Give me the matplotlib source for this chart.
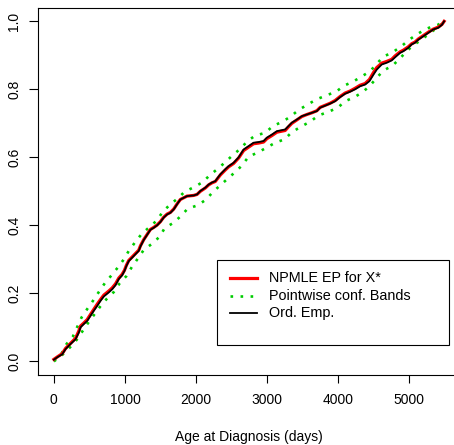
import matplotlib
matplotlib.use("Agg")
import matplotlib.pyplot as plt
from matplotlib.lines import Line2D
from matplotlib.patches import Rectangle

plt.rcParams['font.family'] = ['Liberation Sans', 'DejaVu Sans']

# Ordinary empirical distribution (black)
emp_x = [0, 47, 118, 164, 234, 305, 352, 375, 422, 469, 515, 562, 609, 656, 703, 773,
         820, 867, 913, 960, 993, 1021, 1054, 1101, 1147, 1194, 1218, 1264, 1311, 1358,
         1405, 1452, 1499, 1545, 1592, 1639, 1686, 1733, 1779, 1826, 1873, 1967, 2014,
         2060, 2131, 2177, 2224, 2271, 2341, 2412, 2458, 2528, 2599, 2669, 2739, 2809,
         2880, 2950, 2997, 3067, 3137, 3207, 3254, 3301, 3348, 3418, 3488, 3559, 3629,
         3699, 3746, 3816, 3886, 3956, 4027, 4097, 4167, 4237, 4308, 4378, 4439, 4495,
         4542, 4612, 4682, 4752, 4799, 4869, 4916, 4986, 5033, 5080, 5127, 5197, 5267,
         5337, 5408, 5460, 5490]
emp_y = [0.005, 0.012, 0.021, 0.036, 0.051, 0.065, 0.085, 0.100, 0.110, 0.119, 0.134,
         0.149, 0.163, 0.178, 0.191, 0.203, 0.212, 0.224, 0.242, 0.253, 0.266, 0.281,
         0.295, 0.305, 0.315, 0.325, 0.338, 0.357, 0.372, 0.387, 0.393, 0.400, 0.410,
         0.423, 0.432, 0.437, 0.447, 0.462, 0.476, 0.481, 0.486, 0.488, 0.491, 0.501,
         0.511, 0.520, 0.526, 0.530, 0.550, 0.565, 0.574, 0.584, 0.600, 0.623, 0.633,
         0.643, 0.645, 0.648, 0.658, 0.667, 0.677, 0.680, 0.682, 0.692, 0.702, 0.711,
         0.721, 0.726, 0.731, 0.736, 0.746, 0.752, 0.758, 0.765, 0.777, 0.787, 0.793,
         0.800, 0.809, 0.814, 0.824, 0.843, 0.858, 0.873, 0.878, 0.885, 0.894, 0.907,
         0.912, 0.922, 0.932, 0.937, 0.946, 0.956, 0.966, 0.976, 0.981, 0.990, 1.000]

# NPMLE EP for X* (red) - nearly on top of the empirical one
npmle_y = [0.006, 0.013, 0.023, 0.038, 0.053, 0.068, 0.090, 0.104, 0.113, 0.123, 0.138,
           0.153, 0.168, 0.182, 0.195, 0.207, 0.216, 0.228, 0.245, 0.256, 0.268, 0.283,
           0.297, 0.307, 0.317, 0.327, 0.340, 0.358, 0.373, 0.388, 0.394, 0.401, 0.411,
           0.424, 0.433, 0.438, 0.448, 0.463, 0.476, 0.481, 0.486, 0.488, 0.491, 0.500,
           0.510, 0.519, 0.525, 0.529, 0.548, 0.563, 0.572, 0.582, 0.598, 0.620, 0.630,
           0.640, 0.642, 0.645, 0.655, 0.664, 0.674, 0.677, 0.679, 0.690, 0.700, 0.710,
           0.720, 0.726, 0.731, 0.737, 0.747, 0.753, 0.759, 0.767, 0.779, 0.789, 0.795,
           0.803, 0.812, 0.817, 0.829, 0.849, 0.864, 0.877, 0.882, 0.888, 0.898, 0.910,
           0.915, 0.925, 0.934, 0.939, 0.948, 0.958, 0.968, 0.977, 0.983, 0.991, 1.000]

# pointwise confidence bands (green dotted)
upper_x = [0, 103, 178, 267, 389, 469, 553, 632, 717, 810, 899, 984, 1054, 1138, 1232,
           1452, 1531, 1639, 1742, 1840, 1967, 2093, 2191, 2309, 2412, 2519, 2622, 2725,
           2833, 2973, 3081, 3207, 3324, 3441, 3568, 3690, 3830, 3970, 4083, 4205, 4331,
           4448, 4542, 4635, 4766, 4892, 4986, 5103, 5220, 5337, 5407, 5480]
upper_y = [0.004, 0.021, 0.051, 0.073, 0.129, 0.154, 0.179, 0.204, 0.230, 0.253, 0.276,
           0.300, 0.325, 0.349, 0.374, 0.415, 0.440, 0.462, 0.479, 0.499, 0.512, 0.527,
           0.547, 0.567, 0.586, 0.607, 0.625, 0.648, 0.664, 0.672, 0.692, 0.704, 0.719,
           0.739, 0.755, 0.770, 0.782, 0.793, 0.811, 0.822, 0.838, 0.853, 0.875, 0.896,
           0.909, 0.927, 0.944, 0.961, 0.976, 0.986, 0.990, 1.000]
lower_x = [0, 118, 225, 319, 478, 562, 647, 740, 843, 927, 1021, 1101, 1180, 1265, 1382,
           1489, 1559, 1686, 1789, 1882, 2023, 2135, 2238, 2341, 2444, 2552, 2646, 2739,
           2866, 2987, 3114, 3245, 3348, 3474, 3605, 3722, 3863, 3994, 4097, 4228, 4345,
           4448, 4542, 4635, 4766, 4869, 4963, 5057, 5174, 5291, 5408, 5480]
lower_y = [0.000, 0.019, 0.041, 0.063, 0.112, 0.136, 0.160, 0.183, 0.204, 0.230, 0.251,
           0.279, 0.302, 0.328, 0.346, 0.367, 0.392, 0.408, 0.428, 0.449, 0.459, 0.475,
           0.498, 0.518, 0.537, 0.557, 0.576, 0.602, 0.614, 0.628, 0.643, 0.653, 0.674,
           0.690, 0.705, 0.723, 0.734, 0.746, 0.765, 0.777, 0.792, 0.811, 0.834, 0.855,
           0.870, 0.891, 0.912, 0.930, 0.946, 0.966, 0.983, 0.996]

x_ticks = [0, 1000, 2000, 3000, 4000, 5000]
y_ticks = [0.0, 0.2, 0.4, 0.6, 0.8, 1.0]
legend_labels = ["NPMLE EP for X*", "Pointwise conf. Bands", "Ord. Emp."]

W, H = 454, 445
fig = plt.figure(figsize=(W / 100, H / 100), dpi=100)
ax = fig.add_axes([38.3 / W, 1 - 375 / H, (459 - 38.3) / W, (375 - 7.7) / H])

green = "#00CD00"
dots = (0, (1, 2.8))
ax.plot(upper_x, upper_y, color=green, lw=1.9, ls=dots)
ax.plot(lower_x, lower_y, color=green, lw=1.9, ls=dots)
ax.plot(emp_x, npmle_y, color="red", lw=2.3)
ax.plot(emp_x, emp_y, color="black", lw=1.3)

ax.set_xlim(-219, 5699)
ax.set_ylim(-0.04, 1.04)
ax.set_xticks(x_ticks)
ax.set_xticklabels([str(v) for v in x_ticks])
ax.set_yticks(y_ticks)
ax.set_yticklabels([f"{v:.1f}" for v in y_ticks])
for lbl in ax.get_yticklabels():
    lbl.set_rotation(90)
    lbl.set_va("center")
ax.tick_params(axis="x", length=5.8, width=0.8, labelsize=10, pad=7.5)
ax.tick_params(axis="y", length=6.3, width=0.8, labelsize=10, pad=6)
for s in ax.spines.values():
    s.set_linewidth(0.8)
ax.set_xlabel("Age at Diagnosis (days)", fontsize=10, labelpad=16)

# legend box drawn by hand (R-style, extra space at bottom)
def fx(px):
    return px / W

def fy(py):
    return 1 - py / H

fig.add_artist(Rectangle((fx(217), fy(345)), fx(449) - fx(217), fy(260) - fy(345),
                         transform=fig.transFigure, fill=True, facecolor="white",
                         edgecolor="black", lw=0.8))
rows = [277.7, 295.5, 313.3]
styles = [dict(color="red", lw=2.3), dict(color=green, lw=1.9, ls=dots),
          dict(color="black", lw=1.3)]
for row, st, lab in zip(rows, styles, legend_labels):
    fig.add_artist(Line2D([fx(230), fx(256.7)], [fy(row), fy(row)],
                          transform=fig.transFigure, **st))
    fig.text(fx(269.3), fy(row), lab, fontsize=10.4, va="center", ha="left")

fig.savefig("out.png", dpi=100)
